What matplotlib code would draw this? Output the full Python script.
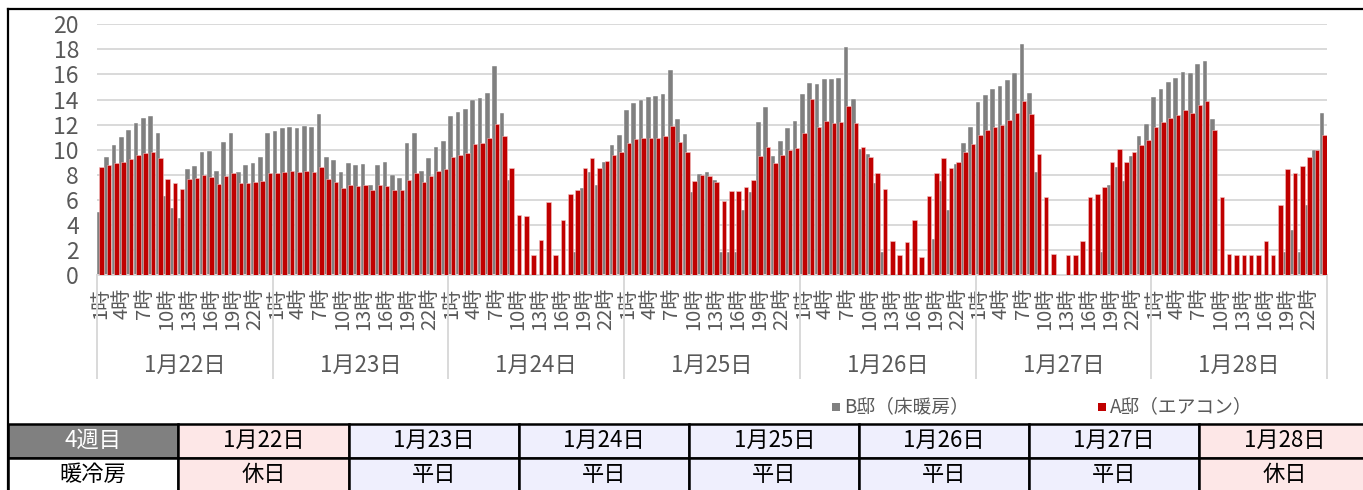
import numpy as np
import matplotlib.pyplot as plt
import matplotlib.transforms as mtransforms
from matplotlib.patches import Rectangle

plt.rcParams['font.family'] = ['Noto Sans CJK JP', 'DejaVu Sans']

days = ['1月22日', '1月23日', '1月24日', '1月25日', '1月26日', '1月27日', '1月28日']
day_types = ['休日', '平日', '平日', '平日', '平日', '平日', '休日']
hour_labels = ['1時', '4時', '7時', '10時', '13時', '16時', '19時', '22時']
series_names = ['B邸（床暖房）', 'A邸（エアコン）']
week_label = '4週目'
row_label = '暖冷房'

# B邸（床暖房） 1時〜24時
b_0122 = [5.0, 9.4, 10.4, 11.0, 11.6, 12.1, 12.5, 12.7, 11.3, 6.3, 5.35, 4.55,
          8.45, 8.7, 9.8, 9.9, 8.3, 10.65, 11.3, 8.2, 8.75, 8.95, 9.45, 11.35]
b_0123 = [11.5, 11.7, 11.8, 11.75, 11.9, 11.8, 12.85, 9.45, 9.2, 8.2, 8.9, 8.75,
          8.85, 7.2, 8.8, 9.0, 7.95, 7.75, 10.55, 11.3, 8.3, 9.3, 10.25, 10.7]
b_0124 = [12.7, 13.0, 13.25, 13.95, 14.1, 14.55, 16.7, 12.95, 7.6, 0, 0, 0,
          0, 0, 0, 0, 0, 1.8, 6.95, 8.2, 7.15, 9.0, 10.35, 11.2]
b_0125 = [13.15, 13.75, 13.95, 14.2, 14.3, 14.45, 16.35, 12.45, 11.25, 6.6, 8.05, 8.25,
          7.6, 1.8, 1.8, 1.8, 5.15, 6.6, 12.2, 13.4, 9.5, 10.7, 11.7, 12.3]
b_0126 = [14.45, 15.3, 15.2, 15.65, 15.6, 15.7, 18.2, 14.05, 10.05, 9.65, 7.35, 1.85,
          0, 0, 0, 0, 0, 0, 2.85, 7.5, 5.2, 8.85, 10.55, 11.8]
b_0127 = [13.8, 14.35, 14.8, 15.1, 15.55, 16.1, 18.4, 14.5, 8.2, 0, 0, 0,
          0, 0, 0, 0, 0, 1.85, 7.15, 8.65, 7.5, 9.5, 11.05, 12.05]
b_0128 = [14.2, 14.85, 15.4, 15.75, 16.2, 16.15, 16.8, 17.05, 12.45, 0, 0, 0,
          0, 0, 0, 0, 0, 0, 1.85, 3.6, 1.85, 5.55, 10.0, 12.9]

# A邸（エアコン） 1時〜24時
a_0122 = [8.65, 8.8, 8.95, 9.0, 9.25, 9.55, 9.7, 9.8, 9.3, 7.65, 7.3, 6.9,
          7.65, 7.75, 7.95, 7.8, 7.25, 7.9, 8.15, 7.3, 7.3, 7.4, 7.5, 8.1]
a_0123 = [8.1, 8.2, 8.3, 8.2, 8.3, 8.25, 8.65, 7.65, 7.45, 6.95, 7.2, 7.1,
          7.2, 6.75, 7.15, 7.1, 6.8, 6.8, 7.6, 8.15, 7.45, 7.9, 8.3, 8.45]
a_0124 = [9.4, 9.55, 9.75, 10.45, 10.55, 10.95, 12.05, 11.05, 8.55, 4.8, 4.7, 1.6,
          2.8, 5.8, 1.6, 4.35, 6.45, 6.8, 8.5, 9.3, 8.5, 9.1, 9.55, 9.8]
a_0125 = [10.55, 10.85, 10.9, 10.95, 10.95, 11.05, 11.9, 10.65, 9.85, 7.5, 7.95, 7.9,
          7.45, 5.9, 6.7, 6.7, 7.05, 7.55, 9.5, 10.2, 8.95, 9.55, 9.95, 10.15]
a_0126 = [11.3, 14.05, 11.8, 12.3, 12.15, 12.2, 13.5, 12.15, 10.2, 9.4, 8.15, 6.9,
          2.7, 1.6, 2.6, 4.4, 1.45, 6.3, 8.15, 9.3, 8.55, 9.0, 9.8, 10.45]
a_0127 = [11.15, 11.55, 11.8, 11.95, 12.35, 12.95, 13.9, 12.85, 9.65, 6.2, 1.7, 0,
          1.6, 1.6, 2.7, 6.2, 6.5, 7.0, 9.0, 10.05, 9.05, 9.85, 10.35, 10.75]
a_0128 = [11.8, 12.2, 12.55, 12.75, 13.15, 12.95, 13.55, 13.9, 11.55, 6.2, 1.7, 1.6,
          1.6, 1.6, 1.6, 2.7, 1.6, 5.6, 8.45, 8.15, 8.7, 9.4, 9.95, 11.15]

b_vals = b_0122 + b_0123 + b_0124 + b_0125 + b_0126 + b_0127 + b_0128
a_vals = a_0122 + a_0123 + a_0124 + a_0125 + a_0126 + a_0127 + a_0128

W, H = 1363, 490
gray = '#808080'
red = '#C00000'
txt = '#595959'
pink = '#FDE7E7'
lavender = '#EFEFFD'

fig = plt.figure(figsize=(W / 100, H / 100), dpi=100)

# frame + table layer in pixel coordinates
tax = fig.add_axes([0, 0, 1, 1])
tax.set_xlim(0, W)
tax.set_ylim(H, 0)
tax.axis('off')

ax = fig.add_axes([97 / W, 1 - 275 / H, (1327 - 97) / W, (275 - 24.3) / H])
ax.set_facecolor('none')

x = np.arange(len(b_vals))
ax.bar(x - 0.18, b_vals, width=0.64, color=gray, edgecolor='white', linewidth=0.3, zorder=2)
ax.bar(x + 0.14, a_vals, width=0.62, color=red, edgecolor='#F2C4C4', linewidth=0.4, zorder=3)

ax.set_xlim(-0.5, len(b_vals) - 0.5)
ax.set_ylim(0, 20)
ax.set_yticks(np.arange(0, 21, 2))
ax.yaxis.grid(True, color='#D9D9D9', linewidth=1.4)
ax.set_axisbelow(True)
for s in ['top', 'right', 'left']:
    ax.spines[s].set_visible(False)
ax.spines['bottom'].set_color('#D9D9D9')
ax.spines['bottom'].set_linewidth(1.4)

tick_pos = []
tick_txt = []
for d in range(len(days)):
    for lab in hour_labels:
        h = int(lab[:-1])
        tick_pos.append(d * 24 + h - 1)
        tick_txt.append(lab)
ax.set_xticks(tick_pos)
ax.set_xticklabels(tick_txt, rotation=90, fontsize=14.5, color=txt)
ax.tick_params(axis='x', length=0, pad=9)
ax.tick_params(axis='y', length=0, pad=13, labelsize=16.5, labelcolor=txt)

trans = mtransforms.blended_transform_factory(ax.transData, ax.transAxes)
for d in range(len(days) + 1):
    ax.plot([d * 24 - 0.5, d * 24 - 0.5], [0, -0.411], transform=trans,
            color='#D9D9D9', linewidth=1.4, clip_on=False)
for d, name in enumerate(days):
    ax.text(d * 24 + 11.5, -0.359, name, transform=trans, ha='center', va='center',
            fontsize=16, color=txt)

# legend
for sx, name, col in [(832, series_names[0], gray), (1098, series_names[1], red)]:
    tax.add_patch(Rectangle((sx, 403), 8, 8, facecolor=col, edgecolor='none'))
    tax.text(sx + 12, 407, name, ha='left', va='center', fontsize=13.5, color=txt)

# outer frame
tax.plot([8, W], [9, 9], color='black', linewidth=1.6)
tax.plot([8, 8], [9, H], color='black', linewidth=1.6)

# table
col_edges = [8, 178.3, 348.6, 519, 689.3, 859.3, 1029, 1199.3, 1369.6]
row_edges = [423.5, 457.5, 491.5]
for r in range(2):
    y0 = row_edges[r]
    hgt = row_edges[r + 1] - y0
    for c in range(len(col_edges) - 1):
        x0 = col_edges[c]
        wid = col_edges[c + 1] - x0
        if c == 0:
            fc = gray if r == 0 else 'white'
            label = week_label if r == 0 else row_label
            tc = 'white' if r == 0 else 'black'
        else:
            fc = pink if day_types[c - 1] == '休日' else lavender
            label = days[c - 1] if r == 0 else day_types[c - 1]
            tc = 'black'
        tax.add_patch(Rectangle((x0, y0), wid, hgt, facecolor=fc, edgecolor='black',
                                linewidth=1.8))
        tax.text(x0 + wid / 2, y0 + hgt / 2, label, ha='center', va='center',
                 fontsize=16, color=tc)

fig.savefig('out.png', dpi=100)
